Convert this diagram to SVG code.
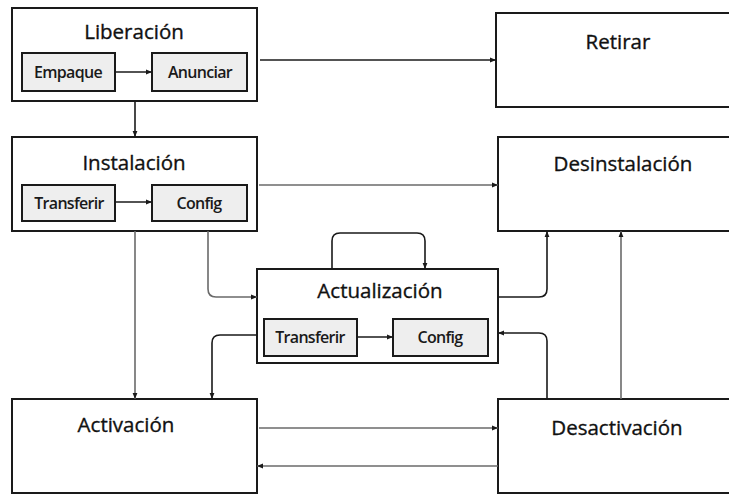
<svg xmlns="http://www.w3.org/2000/svg" width="729" height="497" viewBox="0 0 729 497">
  <style>
    .box { fill: #ffffff; stroke: #1a1a1a; stroke-width: 2; }
    .sub { fill: #eeeeee; stroke: #1a1a1a; stroke-width: 2; }
    .title { font-family: "Open Sans", "Noto Sans", sans-serif; font-size: 20.5px; fill: #111111; stroke: #111111; stroke-width: 0.35; text-anchor: middle; }
    .label { font-family: "Open Sans", "Noto Sans", sans-serif; font-size: 16px; font-weight: 600; fill: #1a1a1a; text-anchor: middle; letter-spacing: -0.7px; }
    .dark { fill: none; stroke: #1a1a1a; stroke-width: 1.6; marker-end: url(#arrow); }
    .grey { fill: none; stroke: #6a6a6a; stroke-width: 1.6; marker-end: url(#arrow); }
  </style>
  <defs>
    <marker id="arrow" viewBox="0 0 10 10" refX="10" refY="5" markerWidth="7" markerHeight="6" markerUnits="userSpaceOnUse" orient="auto">
      <path d="M0,1 L10,5 L0,9 z" fill="#1a1a1a"/>
    </marker>
  </defs>
  <rect width="729" height="497" fill="#ffffff"/>

  <g id="liberacion">
    <rect class="box" x="12" y="8" width="245" height="93"/>
    <text class="title" x="134" y="39">Liberación</text>
    <rect class="sub" x="22" y="53" width="93" height="38"/>
    <text class="label" x="68" y="78">Empaque</text>
    <rect class="sub" x="152" y="53" width="95" height="38"/>
    <text class="label" x="200" y="78">Anunciar</text>
  </g>

  <g id="retirar">
    <rect class="box" x="496" y="13" width="250" height="94"/>
    <text class="title" x="618" y="49">Retirar</text>
  </g>

  <g id="instalacion">
    <rect class="box" x="12" y="137" width="245" height="94"/>
    <text class="title" x="134" y="170">Instalación</text>
    <rect class="sub" x="22" y="185" width="93" height="36"/>
    <text class="label" x="69" y="209">Transferir</text>
    <rect class="sub" x="152" y="185" width="95" height="36"/>
    <text class="label" x="199" y="209">Config</text>
  </g>

  <g id="desinstalacion">
    <rect class="box" x="498" y="137" width="250" height="94"/>
    <text class="title" x="623" y="171">Desinstalación</text>
  </g>

  <g id="actualizacion">
    <rect class="box" x="257" y="269" width="241" height="94"/>
    <text class="title" x="380" y="298">Actualización</text>
    <rect class="sub" x="264" y="319" width="93" height="37"/>
    <text class="label" x="310" y="343">Transferir</text>
    <rect class="sub" x="393" y="319" width="95" height="37"/>
    <text class="label" x="440" y="343">Config</text>
  </g>

  <g id="activacion">
    <rect class="box" x="12" y="399" width="245" height="94"/>
    <text class="title" x="126" y="432">Activación</text>
  </g>

  <g id="desactivacion">
    <rect class="box" x="498" y="399" width="250" height="94"/>
    <text class="title" x="617" y="435">Desactivación</text>
  </g>

  <g id="connectors">
    <path class="dark" d="M260 60 H496"/>
    <path class="dark" d="M135 101 V137"/>
    <path class="dark" d="M115 72 H152"/>
    <path class="grey" d="M259 185 H498"/>
    <path class="dark" d="M115 202 H152"/>
    <path class="grey" d="M135 231 V399"/>
    <path class="grey" d="M208 231 V289 Q208 297 216 297 H257"/>
    <path class="dark" d="M332 269 V241 Q332 233 340 233 H417 Q425 233 425 241 V269"/>
    <path class="dark" d="M498 297 H539 Q547 297 547 289 V231"/>
    <path class="dark" d="M257 335 H220 Q212 335 212 343 V399"/>
    <path class="dark" d="M357 337 H393"/>
    <path class="dark" d="M547 399 V341 Q547 333 539 333 H498"/>
    <path class="grey" d="M621 399 V231"/>
    <path class="grey" d="M259 428 H498"/>
    <path class="grey" d="M498 466 H257"/>
  </g>
</svg>
